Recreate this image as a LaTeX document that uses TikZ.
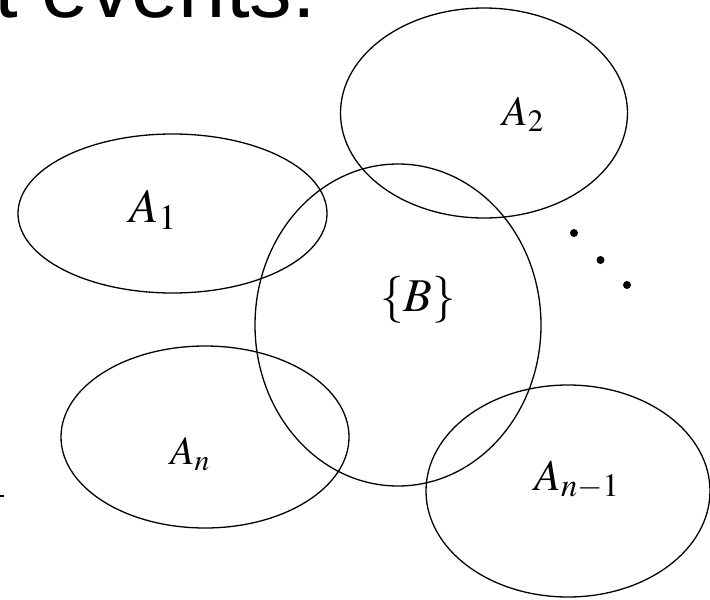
\documentclass[tikz,border=0pt]{standalone}
\usepackage{mathptmx}
\usepackage[no-math]{fontspec}
\newfontfamily\headfont{Liberation Sans}
\tikzset{
	setline/.style={line width=1.3pt},
	setlabel/.style={anchor=base west,inner sep=0pt},
}
\begin{document}
\begin{tikzpicture}[x=1pt,y=-1pt]
		\useasboundingbox (0,0) rectangle (710,600);
			% heading and left-over text of the slide
			\node[setlabel,font=\headfont\fontsize{85}{100}\selectfont] (head) at (-5.6,17) {t events:};
			\node[anchor=east,inner sep=0pt,font=\fontsize{40}{48}\selectfont] (paren) at (3,449) {$)$};
			\coordinate (barl) at (-20,496);
			\coordinate (barr) at (4,496);
			\draw[setline] (barl) -- (barr);
			% the events
			\draw[setline] (172.5,213.5) ellipse [x radius=154.5,y radius=79.5];
			\draw[setline] (484,113) ellipse [x radius=143.5,y radius=105];
			\draw[setline] (398,325) ellipse [x radius=143,y radius=161];
			\draw[setline] (205,437) ellipse [x radius=144,y radius=91];
			\draw[setline] (568,491) ellipse [x radius=142,y radius=106];
			\node[setlabel,font=\fontsize{48}{58}\selectfont] (aone) at (129,222) {$A_1$};
			\node[setlabel,font=\fontsize{42}{50}\selectfont] (atwo) at (502,125) {$A_2$};
			\node[setlabel,font=\fontsize{47}{56}\selectfont] (bset) at (380,311) {$\{B\}$};
			\node[setlabel,font=\fontsize{40}{48}\selectfont] (an) at (170,464) {$A_n$};
			\node[setlabel,font=\fontsize{44}{52}\selectfont] (anm) at (534,490) {$A_{n-1}$};
			% dots
			\fill (574,233) circle (4);
			\fill (600.5,260) circle (4);
			\fill (627,285) circle (4);
		\end{tikzpicture}
\end{document}
